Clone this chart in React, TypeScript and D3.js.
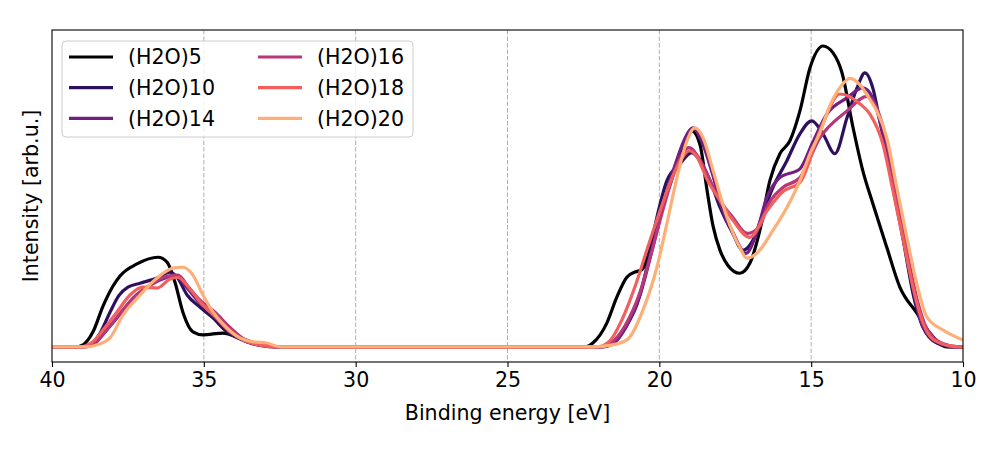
import React, { useRef, useEffect } from "react";
import * as d3 from "d3";

type Pt = [number, number]; // [binding energy (eV), intensity]

const seriesNames = ["(H2O)5", "(H2O)10", "(H2O)14", "(H2O)16", "(H2O)18", "(H2O)20"];
const seriesColors = ["#000004", "#2c115f", "#721f81", "#b73779", "#f1605d", "#feaf77"];

const xTicks = [40, 35, 30, 25, 20, 15, 10];
const gridTicks = [35, 30, 25, 20, 15];

const h2o5: Pt[] = [
  [40, 0], [39.24, 0], [38.98, 0.007], [38.65, 0.05], [38.32, 0.135], [38.0, 0.2],
  [37.76, 0.235], [37.2, 0.275], [36.51, 0.297], [36.21, 0.281], [35.95, 0.214], [35.69, 0.115],
  [35.36, 0.05], [35.03, 0.04], [34.37, 0.046], [33.81, 0.03], [33.15, 0.007], [32.49, 0],
  [22.45, 0], [22.19, 0.013], [21.73, 0.079], [21.4, 0.165], [21.07, 0.231], [20.8, 0.248],
  [20.57, 0.256], [20.24, 0.35], [19.91, 0.46], [19.58, 0.56], [19.26, 0.65], [18.93, 0.716],
  [18.66, 0.67], [18.43, 0.52], [18.23, 0.4], [18.0, 0.32], [17.74, 0.27], [17.35, 0.244],
  [17.02, 0.277], [16.69, 0.386], [16.36, 0.551], [16.03, 0.64], [15.7, 0.683], [15.37, 0.782],
  [15.04, 0.924], [14.61, 0.997], [14.28, 0.974], [13.99, 0.91], [13.62, 0.726], [13.3, 0.584],
  [12.97, 0.475], [12.51, 0.33], [12.08, 0.198], [11.52, 0.112], [11.09, 0.046], [10.53, 0],
  [10, 0],
];

const h2o10: Pt[] = [
  [40, 0], [39.08, 0], [38.75, 0.007], [38.42, 0.045], [38.09, 0.115], [37.8, 0.17],
  [37.5, 0.198], [37.1, 0.211], [36.54, 0.228], [36.11, 0.248], [35.88, 0.231], [35.55, 0.172],
  [35.13, 0.132], [34.7, 0.096], [34.24, 0.05], [33.58, 0.017], [32.99, 0.003], [32.5, 0],
  [21.96, 0], [21.63, 0.01], [21.3, 0.04], [20.97, 0.09], [20.74, 0.14], [20.41, 0.264],
  [20.08, 0.429], [19.75, 0.551], [19.32, 0.607], [18.93, 0.644], [18.66, 0.617],
  [18.33, 0.551], [18.0, 0.462], [17.58, 0.376], [17.25, 0.32], [16.92, 0.353],
  [16.59, 0.442], [16.26, 0.528], [15.8, 0.617], [15.37, 0.706], [14.98, 0.749],
  [14.61, 0.706], [14.22, 0.64], [13.82, 0.759], [13.49, 0.858], [13.23, 0.908],
  [12.97, 0.858], [12.74, 0.749], [12.41, 0.594], [12.08, 0.419], [11.85, 0.287],
  [11.65, 0.178], [11.32, 0.066], [10.86, 0.013], [10.33, 0], [10, 0],
];

const h2o14: Pt[] = [
  [40, 0], [38.91, 0], [38.65, 0.007], [38.25, 0.05], [37.86, 0.096], [37.33, 0.162],
  [36.77, 0.205], [36.21, 0.231], [35.95, 0.238], [35.55, 0.195], [35.13, 0.145],
  [34.57, 0.106], [34.14, 0.063], [33.71, 0.023], [33.15, 0.005], [32.6, 0],
  [21.86, 0], [21.53, 0.01], [21.07, 0.07], [20.64, 0.17], [20.24, 0.32], [19.88, 0.47],
  [19.49, 0.6], [19.16, 0.69], [18.89, 0.726], [18.6, 0.68], [18.27, 0.58], [17.94, 0.46],
  [17.58, 0.38], [17.15, 0.31], [16.82, 0.37], [16.46, 0.495], [16.03, 0.561],
  [15.37, 0.59], [14.94, 0.68], [14.48, 0.772], [13.82, 0.825], [13.3, 0.858],
  [12.97, 0.825], [12.64, 0.706], [12.31, 0.528], [11.98, 0.363], [11.65, 0.198],
  [11.32, 0.066], [10.76, 0.013], [10.26, 0], [10, 0],
];

const h2o16: Pt[] = [
  [40, 0], [38.98, 0], [38.58, 0.015], [38.09, 0.07], [37.6, 0.13], [37.1, 0.18],
  [36.61, 0.215], [36.18, 0.235], [35.85, 0.238], [35.52, 0.2], [35.13, 0.155],
  [34.63, 0.115], [34.2, 0.07], [33.74, 0.03], [33.15, 0.008], [32.6, 0],
  [21.96, 0], [21.56, 0.015], [21.13, 0.07], [20.64, 0.18], [20.24, 0.32], [19.81, 0.48],
  [19.39, 0.61], [19.03, 0.66], [18.66, 0.62], [18.33, 0.551], [18.0, 0.485],
  [17.58, 0.429], [17.1, 0.376], [16.69, 0.4], [16.46, 0.462], [15.93, 0.528],
  [15.37, 0.561], [14.71, 0.693], [13.82, 0.782], [13.16, 0.83], [12.84, 0.79],
  [12.51, 0.68], [12.18, 0.5], [11.85, 0.32], [11.52, 0.16], [11.19, 0.06],
  [10.69, 0.012], [10.16, 0], [10, 0],
];

const h2o18: Pt[] = [
  [40, 0], [39.08, 0], [38.68, 0.015], [38.25, 0.065], [37.83, 0.12], [37.43, 0.172],
  [37.0, 0.198], [36.54, 0.195], [36.11, 0.225], [35.85, 0.23], [35.52, 0.2],
  [35.13, 0.15], [34.63, 0.1], [34.14, 0.05], [33.65, 0.02], [33.09, 0.005], [32.6, 0],
  [22.05, 0], [21.63, 0.02], [21.23, 0.09], [20.8, 0.2], [20.38, 0.33], [19.98, 0.45],
  [19.58, 0.56], [19.22, 0.63], [19.03, 0.65], [18.76, 0.63], [18.43, 0.555], [18.0, 0.485],
  [17.58, 0.42], [17.02, 0.363], [16.46, 0.45], [15.93, 0.515], [15.37, 0.545],
  [14.71, 0.716], [14.05, 0.838], [13.39, 0.805], [13.07, 0.772], [12.64, 0.673],
  [12.31, 0.52], [11.98, 0.36], [11.65, 0.2], [11.32, 0.08], [10.99, 0.025],
  [10.5, 0.005], [10.1, 0], [10, 0],
];

const h2o20: Pt[] = [
  [40, 0], [38.91, 0], [38.42, 0.01], [38.09, 0.03], [37.66, 0.106], [37.1, 0.172],
  [36.54, 0.228], [36.02, 0.261], [35.69, 0.264], [35.36, 0.238], [35.03, 0.172],
  [34.7, 0.116], [34.24, 0.063], [33.81, 0.03], [33.38, 0.017], [32.92, 0.013], [32.49, 0],
  [22.19, 0], [21.63, 0.005], [21.07, 0.023], [20.54, 0.122], [20.08, 0.264],
  [19.75, 0.409], [19.42, 0.561], [19.09, 0.683], [18.83, 0.726], [18.56, 0.693],
  [18.23, 0.584], [17.77, 0.429], [17.35, 0.33], [17.12, 0.294], [16.79, 0.31],
  [16.26, 0.386], [15.8, 0.462], [15.37, 0.551], [15.04, 0.64], [14.71, 0.71],
  [14.38, 0.8], [14.05, 0.86], [13.72, 0.89], [13.39, 0.868], [13.07, 0.82],
  [12.84, 0.782], [12.51, 0.693], [12.18, 0.528], [11.85, 0.363], [11.52, 0.208],
  [11.19, 0.099], [10.66, 0.056], [10, 0.023],
];

const allSeries = [h2o5, h2o10, h2o14, h2o16, h2o18, h2o20];

const FONT = "'DejaVu Sans', sans-serif";
const FONT_SIZE = "20.6px";

const SpectraChart: React.FC = () => {
  const container = useRef<HTMLDivElement>(null);

  useEffect(() => {
    const width = 1001;
    const height = 450;
    const margin = { top: 30, right: 38, bottom: 88, left: 52 };
    const innerW = width - margin.left - margin.right;
    const innerH = height - margin.top - margin.bottom;

    d3.select(container.current).selectChildren().remove();

    const svg = d3
      .select(container.current)
      .append("svg")
      .attr("width", width)
      .attr("height", height)
      .style("display", "block")
      .style("background", "#fff");

    const g = svg
      .append("g")
      .attr("transform", `translate(${margin.left},${margin.top})`);

    // binding energy runs right-to-left
    const x = d3.scaleLinear().domain([40, 10]).range([0, innerW]);
    const y = d3.scaleLinear().domain([-0.05, 1.05]).range([innerH, 0]);

    g.append("defs")
      .append("clipPath")
      .attr("id", "plot-clip")
      .append("rect")
      .attr("width", innerW)
      .attr("height", innerH);

    // dashed vertical grid
    g.append("g")
      .selectAll("line")
      .data(gridTicks)
      .join("line")
      .attr("x1", (d) => x(d))
      .attr("x2", (d) => x(d))
      .attr("y1", 0)
      .attr("y2", innerH)
      .attr("stroke", "#b0b0b0")
      .attr("stroke-width", 1)
      .attr("stroke-dasharray", "4.5,2");

    const line = d3
      .line<Pt>()
      .x((d) => x(d[0]))
      .y((d) => y(d[1]))
      .curve(d3.curveMonotoneX);

    g.append("g")
      .attr("clip-path", "url(#plot-clip)")
      .selectAll("path")
      .data(allSeries)
      .join("path")
      .attr("d", (d) => line(d))
      .attr("fill", "none")
      .attr("stroke", (_, i) => seriesColors[i])
      .attr("stroke-width", 3.2)
      .attr("stroke-linejoin", "round");

    // frame
    g.append("rect")
      .attr("width", innerW)
      .attr("height", innerH)
      .attr("fill", "none")
      .attr("stroke", "#000")
      .attr("stroke-width", 1.1);

    // x axis
    const xAxis = g
      .append("g")
      .attr("transform", `translate(0,${innerH})`)
      .call(
        d3
          .axisBottom(x)
          .tickValues(xTicks)
          .tickSize(5)
          .tickPadding(5)
          .tickFormat(d3.format("d"))
      );
    xAxis.select(".domain").remove();
    xAxis.selectAll(".tick line").attr("stroke", "#000").attr("stroke-width", 1.1);
    xAxis
      .selectAll(".tick text")
      .attr("fill", "#000")
      .style("font-family", FONT)
      .style("font-size", FONT_SIZE);

    g.append("text")
      .attr("x", innerW / 2)
      .attr("y", innerH + 58)
      .attr("text-anchor", "middle")
      .style("font-family", FONT)
      .style("font-size", FONT_SIZE)
      .text("Binding energy [eV]");

    g.append("text")
      .attr("transform", `translate(${-14},${innerH / 2}) rotate(-90)`)
      .attr("text-anchor", "middle")
      .style("font-family", FONT)
      .style("font-size", FONT_SIZE)
      .text("Intensity [arb.u.]");

    // legend, two columns of three
    const legend = g.append("g").attr("transform", "translate(10,11)");
    legend
      .append("rect")
      .attr("width", 351)
      .attr("height", 96)
      .attr("rx", 4)
      .attr("fill", "#fff")
      .attr("fill-opacity", 0.8)
      .attr("stroke", "#cccccc")
      .attr("stroke-width", 1);

    const items = legend
      .selectAll("g.item")
      .data(seriesNames)
      .join("g")
      .attr("class", "item")
      .attr(
        "transform",
        (_, i) => `translate(${Math.floor(i / 3) * 189 + 7},${(i % 3) * 30.7 + 16})`
      );
    items
      .append("line")
      .attr("x1", 0)
      .attr("x2", 44)
      .attr("stroke", (_, i) => seriesColors[i])
      .attr("stroke-width", 3.2);
    items
      .append("text")
      .attr("x", 59)
      .attr("dy", "0.35em")
      .style("font-family", FONT)
      .style("font-size", FONT_SIZE)
      .text((d) => d);
  }, []);

  return <div ref={container} />;
};

export default function App() {
  return (
    <div style={{ position: "absolute", left: 0, top: 0 }}>
      <SpectraChart />
    </div>
  );
}
